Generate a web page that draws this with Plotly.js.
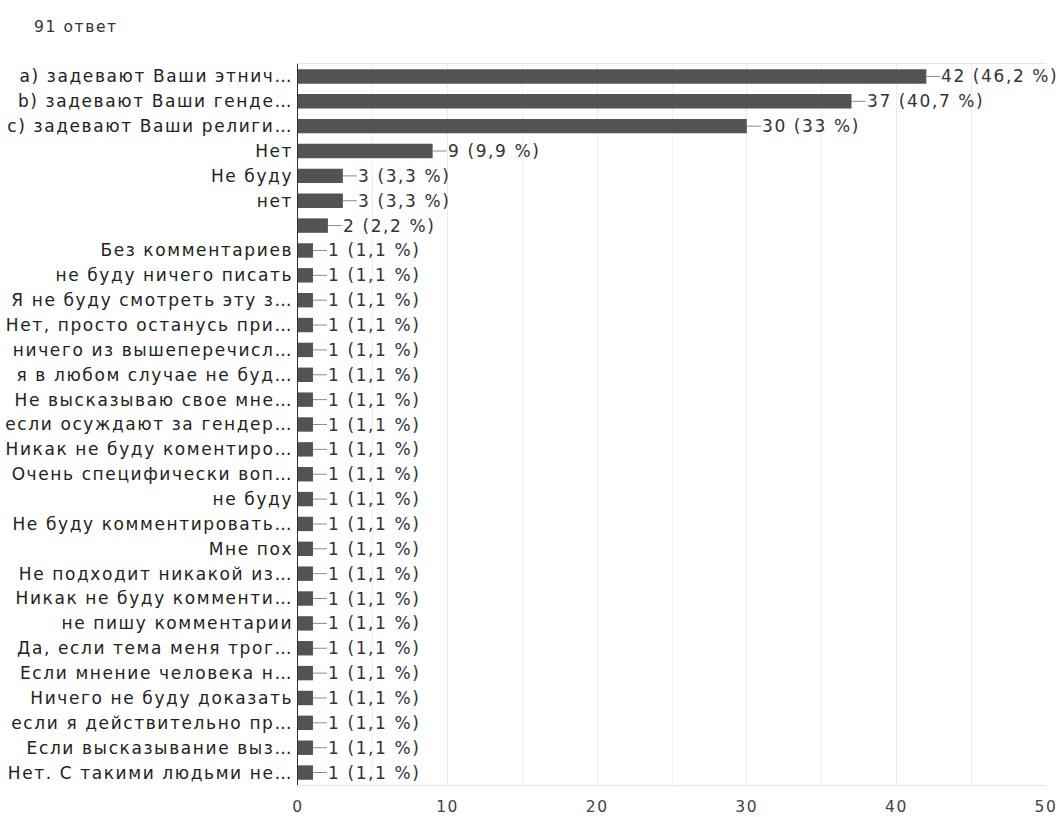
<!DOCTYPE html>
<html>
<head>
<meta charset="utf-8">
<script src="https://cdn.plot.ly/plotly-3.0.1.min.js"></script>
<style>
html,body{margin:0;padding:0;background:#fff;}
#chart{width:1061px;height:817px;}
#chart svg text{letter-spacing:1.6px;}
</style>
</head>
<body>
<div id="chart"></div>
<script>
const categories = [
  "а) задевают Ваши этнич…",
  "b) задевают Ваши генде…",
  "с) задевают Ваши религи…",
  "Нет",
  "Не буду",
  "нет",
  " ",
  "Без комментариев",
  "не буду ничего писать",
  "Я не буду смотреть эту з…",
  "Нет, просто останусь при…",
  "ничего из вышеперечисл…",
  "я в любом случае не буд…",
  "Не высказываю свое мне…",
  "если осуждают за гендер…",
  "Никак не буду коментиро…",
  "Очень специфически воп…",
  "не буду",
  "Не буду комментировать…",
  "Мне пох",
  "Не подходит никакой из…",
  "Никак не буду комменти…",
  "не пишу комментарии",
  "Да, если тема меня трог…",
  "Если мнение человека н…",
  "Ничего не буду доказать",
  "если я действительно пр…",
  "Если высказывание выз…",
  "Нет. С такими людьми не…"
];
const counts = [42, 37, 30, 9, 3, 3, 2, 1, 1, 1, 1, 1, 1, 1, 1, 1, 1, 1, 1, 1, 1, 1, 1, 1, 1, 1, 1, 1, 1];
const percents = ["46,2", "40,7", "33", "9,9", "3,3", "3,3", "2,2", "1,1", "1,1", "1,1", "1,1", "1,1", "1,1", "1,1", "1,1", "1,1", "1,1", "1,1", "1,1", "1,1", "1,1", "1,1", "1,1", "1,1", "1,1", "1,1", "1,1", "1,1", "1,1"];
const xTicks = [0, 10, 20, 30, 40, 50];
const totalLabel = "91 ответ";

const FONT = "DejaVu Sans, Arial, sans-serif";

const annotations = categories.map((c, i) => ({
  x: counts[i], y: c, xref: "x", yref: "y",
  text: counts[i] + " (" + percents[i] + " %)",
  showarrow: true, arrowhead: 0, arrowwidth: 1, arrowcolor: "#8a8a8a",
  ax: 14, ay: 0, xanchor: "left", yanchor: "middle", align: "left",
  borderpad: 0, standoff: 0,
  font: {family: FONT, size: 17, color: "#333"}
}));
annotations.push({
  xref: "paper", yref: "paper", x: -0.356, y: 1.051,
  xanchor: "left", yanchor: "middle", showarrow: false, align: "left",
  text: totalLabel, font: {family: FONT, size: 15.5, color: "#333"}
});

const trace = {
  type: "bar", orientation: "h",
  x: counts, y: categories,
  marker: {color: "#535353"},
  hoverinfo: "none"
};

const layout = {
  width: 1061, height: 817,
  margin: {l: 298, r: 15, t: 64, b: 32},
  paper_bgcolor: "#fff", plot_bgcolor: "#fff",
  bargap: 0.42,
  showlegend: false,
  font: {family: FONT, size: 17, color: "#333"},
  xaxis: {
    range: [0, 50], tickvals: xTicks, ticktext: xTicks.map(String),
    showgrid: true, gridcolor: "#ebebeb", gridwidth: 1,
    minor: {dtick: 5, showgrid: true, gridcolor: "#f0f0f0", gridwidth: 1},
    zeroline: false, showline: true, linecolor: "#e6e6e6", mirror: true,
    ticks: "", ticklabelstandoff: 7,
    tickfont: {family: FONT, size: 15.5, color: "#444"},
    fixedrange: true
  },
  yaxis: {
    type: "category", autorange: "reversed",
    showgrid: false, zeroline: false,
    showline: true, linecolor: "#333", linewidth: 1.5,
    ticks: "", ticklabelstandoff: 0,
    tickfont: {family: FONT, size: 17, color: "#222"},
    fixedrange: true
  },
  annotations: annotations
};

Plotly.newPlot("chart", [trace], layout, {displayModeBar: false, staticPlot: true});
</script>
</body>
</html>
